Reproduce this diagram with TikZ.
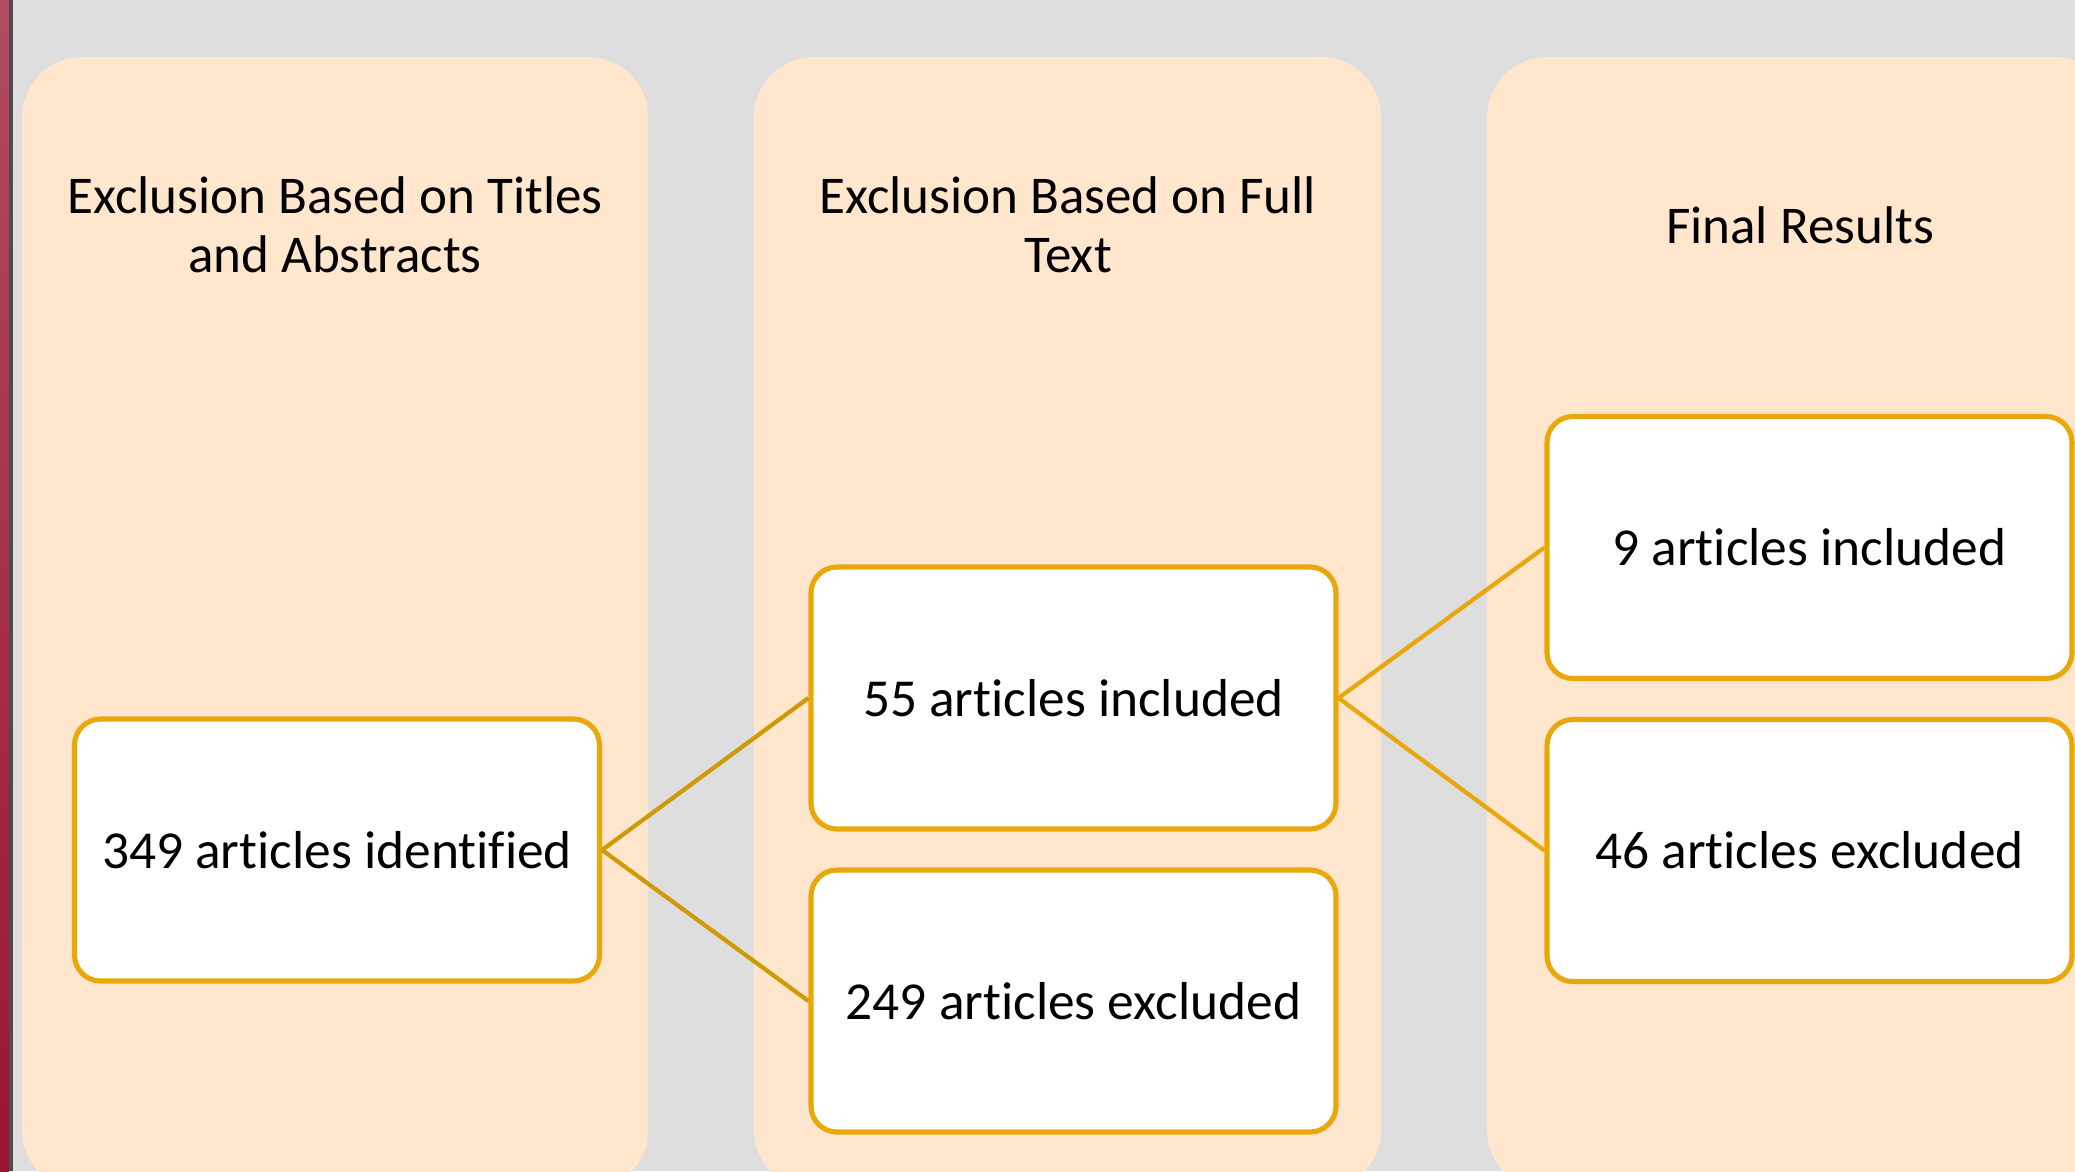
\documentclass[tikz,border=0pt]{standalone}
\usepackage{fontspec}
\setmainfont{Carlito}[RawFeature = {-liga;-clig;-calt;-dlig}]
\usetikzlibrary{calc}

\definecolor{slide}{HTML}{DEDEDE}
\definecolor{panel}{HTML}{FFE6CD}
\definecolor{gold}{HTML}{E8A80C}
\definecolor{golddark}{HTML}{CF9A06}
\definecolor{edgetop}{HTML}{B24A62}
\definecolor{edgebottom}{HTML}{9A1531}

\begin{document}
\begin{tikzpicture}[
        panel/.style = {fill = panel, rounded corners = 0.6cm},
        stage/.style = {draw = gold, line width = 1.45pt, fill = white,
            rounded corners = 0.26cm, minimum width = 5.25cm,
            minimum height = 2.62cm, font = \fontsize{15.2}{17}\selectfont},
        head/.style = {align = center, font = \fontsize{15.1}{16.8}\selectfont},
        link/.style = {draw = gold, line width = 1.2pt}
    ]
        \useasboundingbox (0, 0) rectangle (20.75, -11.71);
        \fill[slide] (0, 0) rectangle (20.75, -11.71);
        \shade[top color = edgetop, bottom color = edgebottom]
            (0, 0) rectangle (0.09, -11.71);
        \fill[black!70] (0.09, 0) rectangle (0.13, -11.71);
        % the three columns run off the page
        \begin{scope}
            \clip (0, 0) rectangle (20.75, -11.71);
            \fill[panel] (0.22, -0.57) rectangle (6.48, -11.9);
            \fill[panel] (7.54, -0.57) rectangle (13.81, -11.9);
            \fill[panel] (14.87, -0.57) rectangle (21.14, -11.9);
        \end{scope}
        \node[head] at (3.35, -2.25) (titles_head)
            {Exclusion Based on Titles\\and Abstracts};
        \node[head] at (10.68, -2.25) (fulltext_head)
            {Exclusion Based on Full\\Text};
        \node[head] at (18.0, -2.25) (results_head) {Final Results};
        \node[stage] at (3.37, -8.5) (identified) {349 articles identified};
        \node[stage] at (10.735, -6.98) (included) {55 articles included};
        \node[stage] at (10.735, -10.01) (excluded) {249 articles excluded};
        \node[stage] at (18.095, -5.475) (final_included) {9 articles included};
        \node[stage] at (18.095, -8.505) (final_excluded) {46 articles excluded};
        \draw[link, draw = golddark] (identified.east) -- (included.west);
        \draw[link, draw = golddark] (identified.east) -- (excluded.west);
        \draw[link] (included.east) -- (final_included.west);
        \draw[link] (included.east) -- (final_excluded.west);
    \end{tikzpicture}
\end{document}
